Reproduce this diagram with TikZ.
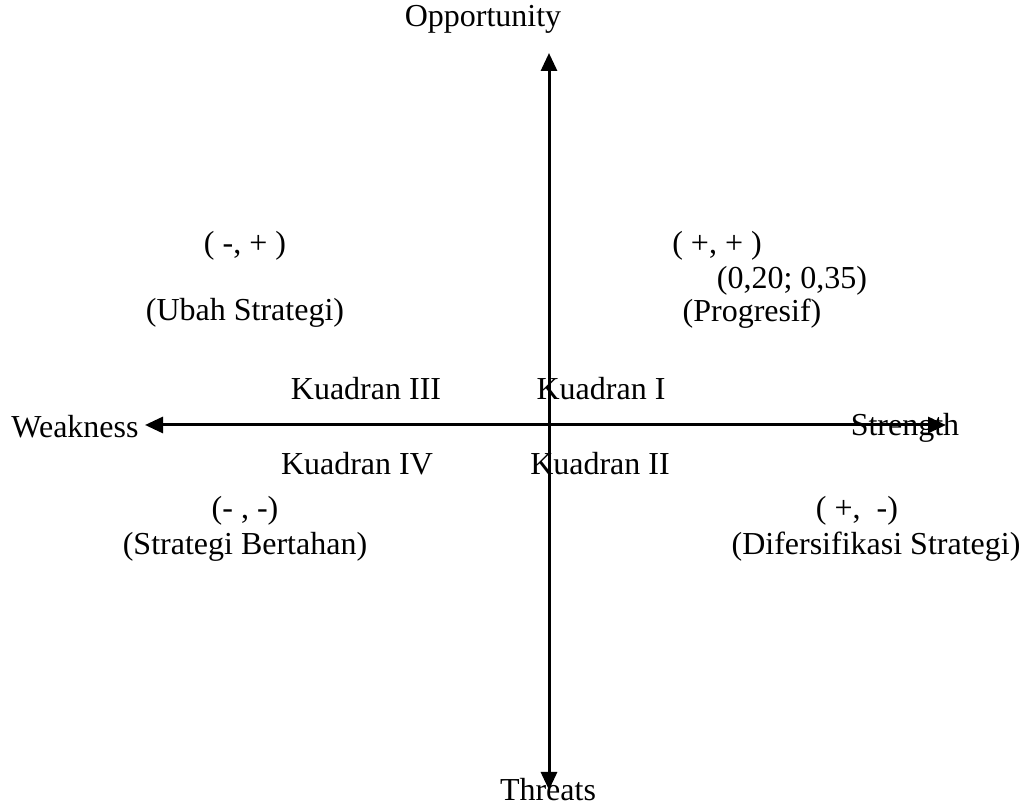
\documentclass[tikz,border=0pt]{standalone}
\usepackage{fontspec}
\setmainfont{Liberation Serif}
\usetikzlibrary{arrows.meta}
\begin{document}
\begin{tikzpicture}[x=0.5pt,y=-0.5pt]
\tikzstyle{every node}+=[inner sep=0pt,font=\fontsize{16}{19}\selectfont]
\tikzstyle{axis}=[line width=1.5pt,{Triangle[length=9pt,width=8pt]}-{Triangle[length=9pt,width=8pt]}]
\useasboundingbox (0,0) rectangle (1024,807);
\coordinate (top) at (549,53);
\coordinate (bot) at (549,790);
\coordinate (lft) at (145,425);
\coordinate (rgt) at (946,425);
\draw[axis] (top) -- (bot);
\draw[axis] (lft) -- (rgt);
\draw (483,19) node (opp) {Opportunity};
\draw (548,790) node (thr) {Threats};
\draw (75,427) node (wea) {Weakness};
\draw (905,428) node (str) {Strength};
\draw (245,246) node (q3s) {( -, + )};
\draw (245,313) node (q3n) {(Ubah Strategi)};
\draw (717,246) node (q1s) {( +, + )};
\draw (792,281) node (q1v) {(0,20; 0,35)};
\draw (752,314) node (q1n) {(Progresif)};
\draw (366,389) node (k3) {Kuadran III};
\draw (601,389) node (k1) {Kuadran I};
\draw (357,464) node (k4) {Kuadran IV};
\draw (600,464) node (k2) {Kuadran II};
\draw (245,511) node (q4s) {(- , -)};
\draw (245,547) node (q4n) {(Strategi Bertahan)};
\draw (857,511) node (q2s) {( +,\ \ -)};
\draw (876,547) node (q2n) {(Difersifikasi Strategi)};
\end{tikzpicture}
\end{document}
